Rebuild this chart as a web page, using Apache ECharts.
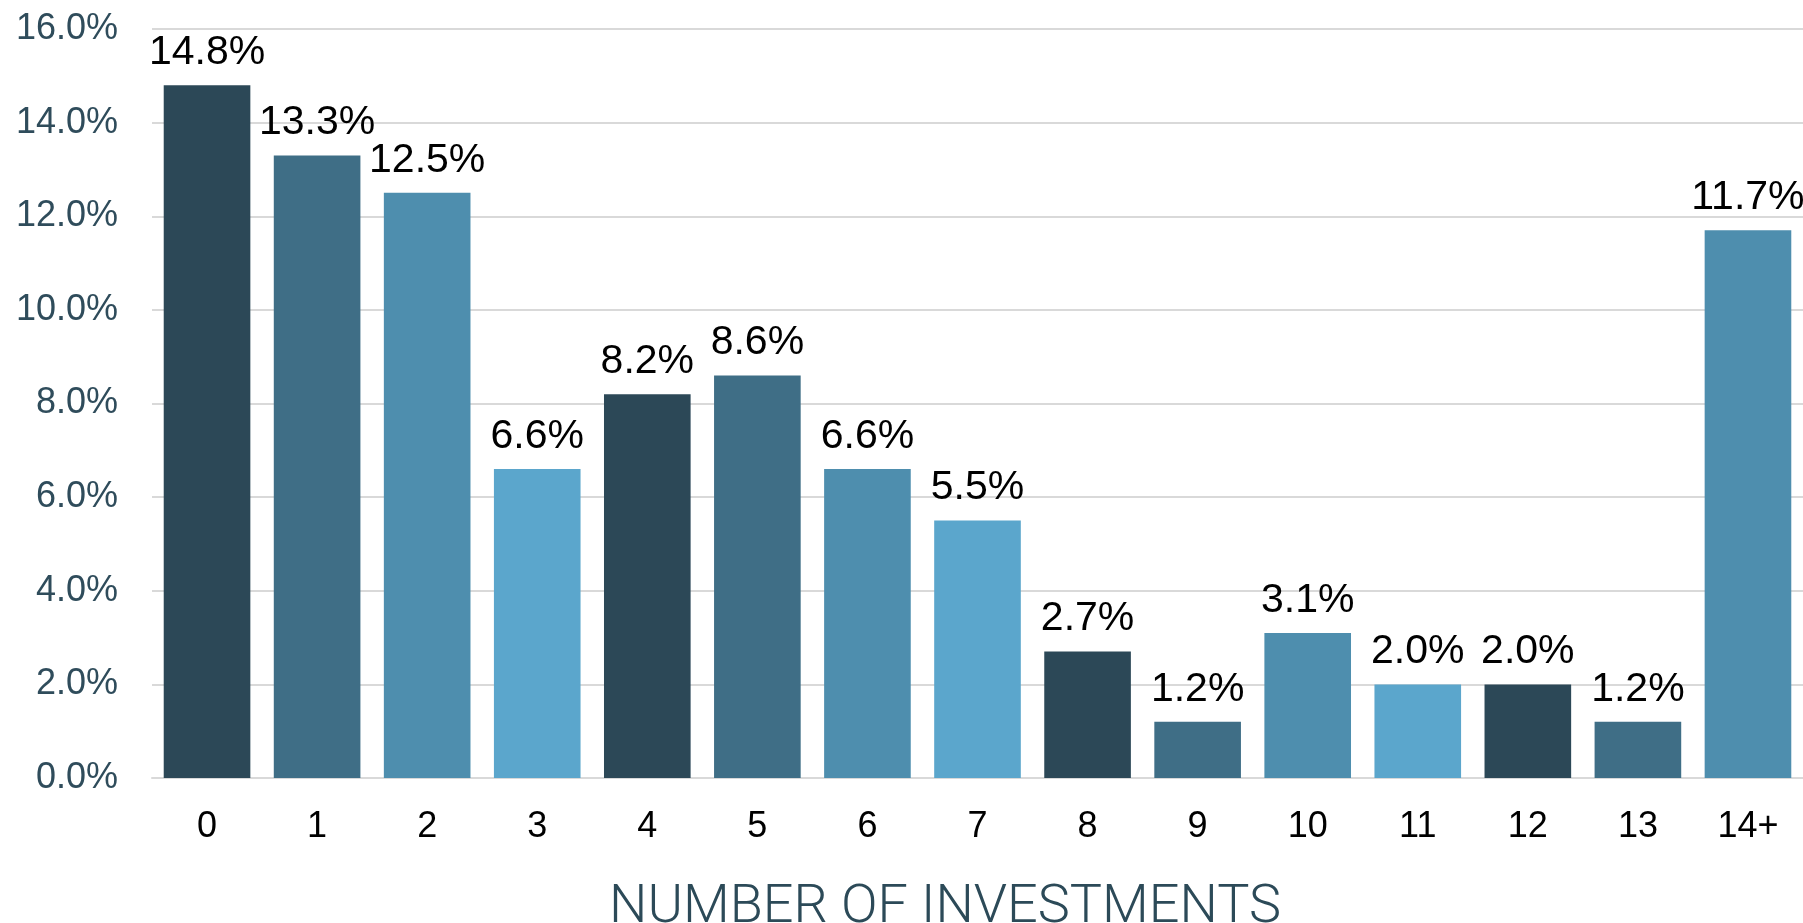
<!DOCTYPE html>
<html>
<head>
<meta charset="utf-8">
<script src="https://cdn.jsdelivr.net/npm/echarts@6/dist/echarts.min.js"></script>
<style>
  html, body { margin: 0; padding: 0; background: #fff; }
  #chart { width: 1803px; height: 923px; }
</style>
</head>
<body>
<div id="chart"></div>
<script>
// data
const categories = ["0", "1", "2", "3", "4", "5", "6", "7", "8", "9", "10", "11", "12", "13", "14+"];
const shares = [14.8, 13.3, 12.5, 6.6, 8.2, 8.6, 6.6, 5.5, 2.7, 1.2, 3.1, 2.0, 2.0, 1.2, 11.7];
const yTicks = [0, 2, 4, 6, 8, 10, 12, 14, 16];
const axisTitle = "NUMBER OF INVESTMENTS";

// bar colours repeat every four categories
const palette = ["#2c4857", "#3f6e86", "#4e8eae", "#5ba6cc"];

const chart = echarts.init(document.getElementById("chart"));

const option = {
  animation: false,
  title: {
    text: axisTitle,
    left: 940,
    textAlign: "center",
    top: 876,
    textStyle: {
      fontFamily: "Roboto",
      fontWeight: 300,
      fontSize: 54,
      color: "#2c4a58",
    },
  },
  grid: {
    left: 152,
    top: 29,
    width: 1659,
    height: 749,
    containLabel: false,
  },
  xAxis: {
    type: "category",
    data: categories,
    axisTick: { show: false },
    axisLine: { lineStyle: { color: "#d9d9d9", width: 2 } },
    axisLabel: {
      margin: 31,
      fontFamily: "Liberation Sans",
      fontSize: 36,
      color: "#000",
    },
  },
  yAxis: {
    type: "value",
    min: yTicks[0],
    max: yTicks[yTicks.length - 1],
    interval: yTicks[1] - yTicks[0],
    axisLine: { show: false },
    axisTick: { show: false },
    splitLine: { lineStyle: { color: "#d9d9d9", width: 2 } },
    axisLabel: {
      margin: 34,
      fontFamily: "Liberation Sans",
      fontSize: 36,
      color: "#2f4c5b",
      formatter: (v) => v.toFixed(1) + "%",
    },
  },
  series: [
    {
      type: "bar",
      data: shares.map((v, i) => ({
        value: v,
        itemStyle: { color: palette[i % palette.length] },
      })),
      barCategoryGap: "21.3%",
      label: {
        show: true,
        position: "top",
        distance: 12,
        fontFamily: "Liberation Sans",
        fontSize: 41,
        color: "#000",
        formatter: (p) => p.value.toFixed(1) + "%",
      },
    },
  ],
};

chart.setOption(option);
</script>
</body>
</html>
